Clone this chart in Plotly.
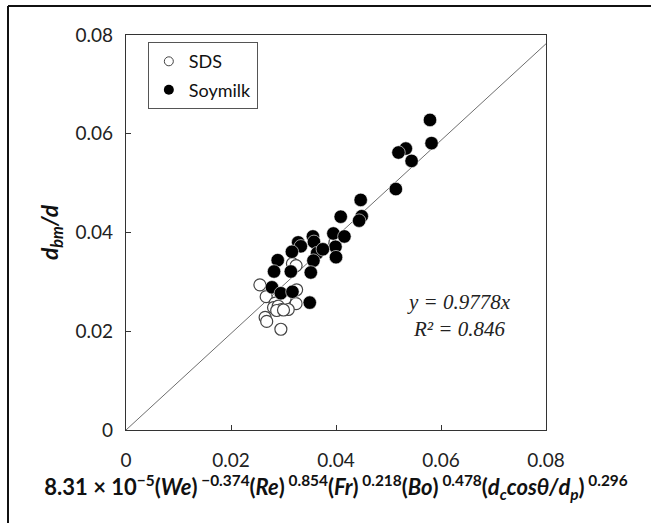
import plotly.graph_objects as go

# ---- data ----
sds_x = [0.0255, 0.0317, 0.0324, 0.0325, 0.0267, 0.0284, 0.0303, 0.0324, 0.0281,
         0.0290, 0.0296, 0.0309, 0.0287, 0.0265, 0.0268, 0.0295, 0.0398, 0.0300]
sds_y = [0.0294, 0.0337, 0.0333, 0.0284, 0.0270, 0.0257, 0.0266, 0.0256, 0.0248,
         0.0251, 0.0244, 0.0244, 0.0242, 0.0228, 0.0220, 0.0204, 0.0380, 0.0243]

soy_x = [0.0579, 0.0582, 0.0533, 0.0519, 0.0544, 0.0514, 0.0447, 0.0409, 0.0449, 0.0444,
         0.0395, 0.0416, 0.0399, 0.0400, 0.0356, 0.0358, 0.0328, 0.0333, 0.0316, 0.0364,
         0.0375, 0.0357, 0.0289, 0.0282, 0.0314, 0.0352, 0.0278, 0.0295, 0.0317, 0.0350]
soy_y = [0.0628, 0.0581, 0.0570, 0.0562, 0.0545, 0.0488, 0.0466, 0.0432, 0.0433, 0.0424,
         0.0398, 0.0392, 0.0371, 0.0350, 0.0392, 0.0381, 0.0380, 0.0372, 0.0361, 0.0358,
         0.0366, 0.0343, 0.0344, 0.0321, 0.0321, 0.0319, 0.0289, 0.0277, 0.0280, 0.0258]

slope = 0.9778
r2 = 0.846
fit_x = [0, 0.08]
fit_y = [slope * v for v in fit_x]

tick_vals = [0, 0.02, 0.04, 0.06, 0.08]
tick_text = ["0", "0.02", "0.04", "0.06", "0.08"]

W, H = 651, 523
L, R, T, B = 126, 105, 35, 93

sds_marker = dict(symbol="circle", color="white", line=dict(color="#444444", width=1.2))
soy_marker = dict(symbol="circle", color="black", line=dict(color="white", width=0.6))

fig = go.Figure()
fig.add_trace(go.Scatter(x=fit_x, y=fit_y, mode="lines", showlegend=False,
                         line=dict(color="#6e6e6e", width=1), hoverinfo="skip"))
fig.add_trace(go.Scatter(x=sds_x, y=sds_y, mode="markers", name="SDS", legendgroup="sds",
                         showlegend=False, marker=dict(size=12, **sds_marker)))
fig.add_trace(go.Scatter(x=soy_x, y=soy_y, mode="markers", name="Soymilk", legendgroup="soy",
                         showlegend=False, marker=dict(size=13.5, **soy_marker)))
# legend entries (smaller symbols, as in the reference legend)
fig.add_trace(go.Scatter(x=[None], y=[None], mode="markers", name="SDS", legendgroup="sds",
                         marker=dict(size=9, symbol="circle", color="white",
                                     line=dict(color="#444444", width=1))))
fig.add_trace(go.Scatter(x=[None], y=[None], mode="markers", name="Soymilk", legendgroup="soy",
                         marker=dict(size=10, symbol="circle", color="black")))

axis_common = dict(range=[0, 0.08], tickvals=tick_vals, ticktext=tick_text,
                   ticks="inside", ticklen=5, tickwidth=1, tickcolor="#333333",
                   showgrid=False, zeroline=False, showline=True, linecolor="#333333",
                   linewidth=1.3, mirror=True,
                   tickfont=dict(family="Lato", size=19, color="#222222"))

fig.update_xaxes(**axis_common, ticklabelstandoff=13,
                 title=dict(text="<b>8.31 × 10<sup>−5</sup>(<i>We</i>)<sup> −0.374</sup>(<i>Re</i>)<sup> 0.854</sup>(<i>Fr</i>)<sup> 0.218</sup>(<i>Bo</i>)<sup> 0.478</sup>(<i>d<sub>c</sub>cosθ/d<sub>p</sub></i>)<sup> 0.296</sup></b>",
                            font=dict(family="Lato", size=22, color="#111111"), standoff=8))
fig.update_yaxes(**axis_common, ticklabelstandoff=8,
                 title=dict(text="<b><i>d<sub>bm</sub>/d</i></b>",
                            font=dict(family="Lato", size=23, color="#111111"), standoff=10))

fig.add_annotation(x=0.0635, y=0.0231, xref="x", yref="y", showarrow=False,
                   text=f"<i>y = {slope}x<br>R² = {r2}</i>",
                   font=dict(family="Liberation Serif", size=21, color="#222222"),
                   align="center")

# outer frame (left and top edges visible in the reference)
x0 = (8 - L) / (W - L - R)
y0 = (H - B - 6) / (H - T - B)
x1 = (W - L) / (W - L - R)
yb = (H - B - H) / (H - T - B)
fig.add_shape(type="line", xref="paper", yref="paper", x0=x0, x1=x0, y0=yb, y1=y0,
              line=dict(color="#111111", width=2))
fig.add_shape(type="line", xref="paper", yref="paper", x0=x0, x1=x1, y0=y0, y1=y0,
              line=dict(color="#111111", width=2))

fig.update_layout(
    width=W, height=H,
    margin=dict(l=L, r=R, t=T, b=B),
    paper_bgcolor="white", plot_bgcolor="white",
    showlegend=True,
    legend=dict(x=0.052, y=0.982, xanchor="left", yanchor="top",
                bordercolor="#555555", borderwidth=1, bgcolor="white",
                font=dict(family="Lato", size=18, color="#111111"),
                itemsizing="trace", itemwidth=30, tracegroupgap=2),
)

fig.write_html("out.html", config={"displayModeBar": False},
               post_script="document.body.style.margin='0px';document.body.style.overflow='hidden';")
